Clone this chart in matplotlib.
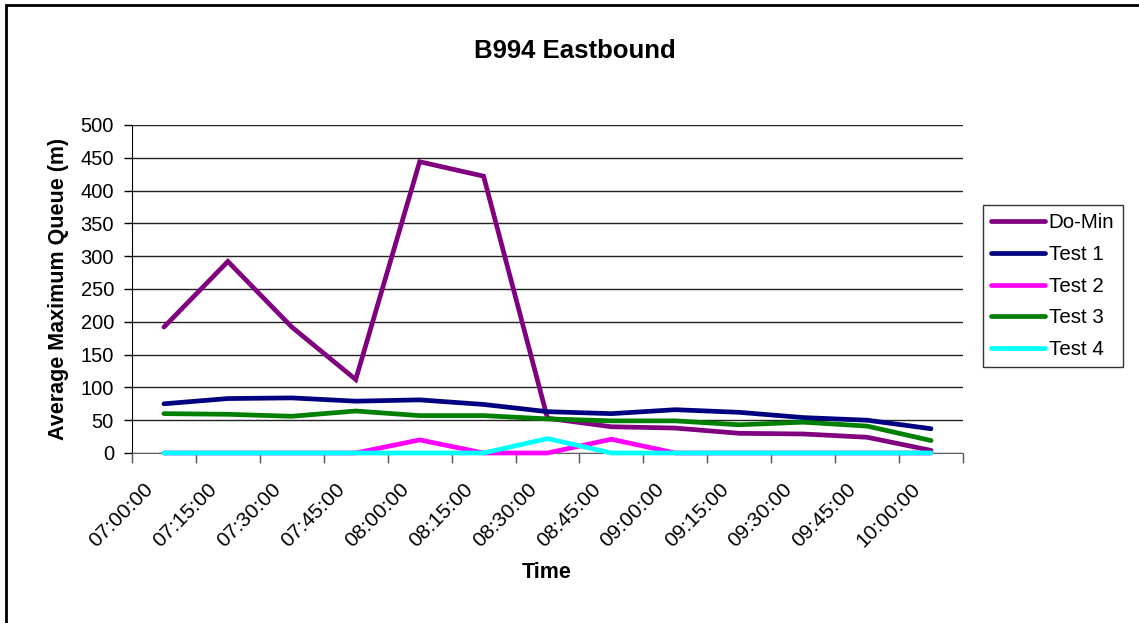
import matplotlib
matplotlib.use('Agg')
import matplotlib.pyplot as plt
from matplotlib.patches import Rectangle
from matplotlib.transforms import ScaledTranslation

plt.rcParams['font.family'] = ['Liberation Sans', 'DejaVu Sans']

times = ['07:00:00', '07:15:00', '07:30:00', '07:45:00', '08:00:00', '08:15:00',
         '08:30:00', '08:45:00', '09:00:00', '09:15:00', '09:30:00', '09:45:00',
         '10:00:00']

do_min = [192, 292, 192, 112, 444, 422, 53, 40, 38, 30, 29, 24, 4]
test_1 = [75, 83, 84, 79, 81, 74, 63, 60, 66, 62, 54, 50, 37]
test_2 = [0, 0, 0, 0, 20, 0, 0, 21, 0, 0, 0, 0, 0]
test_3 = [60, 59, 56, 64, 57, 57, 52, 49, 49, 43, 47, 41, 19]
test_4 = [0, 0, 0, 0, 0, 0, 22, 0, 0, 0, 0, 0, 0]

series = [
    ('Do-Min', do_min, '#800080'),
    ('Test 1', test_1, '#000080'),
    ('Test 2', test_2, '#FF00FF'),
    ('Test 3', test_3, '#008000'),
    ('Test 4', test_4, '#00FFFF'),
]

fig = plt.figure(figsize=(11.39, 6.23), dpi=100)
ax = fig.add_axes([132 / 1139, 1 - 453 / 623, (963 - 132) / 1139, (453 - 125) / 623])

x = list(range(len(times)))
for name, vals, col in series:
    ax.plot(x, vals, color=col, lw=3.4, label=name, solid_capstyle='round',
            solid_joinstyle='miter', clip_on=False, zorder=3)

ax.set_xlim(-0.5, len(times) - 0.5)
ax.set_ylim(0, 500)
ax.set_yticks(range(0, 501, 50))
ax.grid(axis='y', color='#222222', lw=1)
ax.set_axisbelow(True)

ax.set_xticks(x)
ax.set_xticklabels(times, rotation=45, ha='right', fontsize=15)
ax.set_xticks([i - 0.5 for i in range(len(times) + 1)], minor=True)
ax.tick_params(axis='x', which='major', length=0, pad=19)
ax.tick_params(axis='x', which='minor', length=7, width=1, color='#555555')
ax.tick_params(axis='y', length=6, width=1, labelsize=14.5, pad=7)

# nudge the slanted time labels a little to the left
shift = ScaledTranslation(-7 / 100, 0, fig.dpi_scale_trans)
for lbl in ax.get_xticklabels():
    lbl.set_transform(lbl.get_transform() + shift)

for s in ['top', 'right']:
    ax.spines[s].set_visible(False)
ax.spines['left'].set_color('black')
ax.spines['bottom'].set_color('#666666')

ax.set_ylabel('Average Maximum Queue (m)', fontsize=15.5, fontweight='bold', labelpad=8)
fig.text(547 / 1139, 1 - 572 / 623, 'Time', fontsize=15.5, fontweight='bold',
         ha='center', va='center')
fig.text(575 / 1139, 1 - 51 / 623, 'B994 Eastbound', fontsize=18.5, fontweight='bold',
         ha='center', va='center')

leg = ax.legend(loc='upper left', bbox_to_anchor=(983 / 1139, 1 - 205 / 623),
                bbox_transform=fig.transFigure, fontsize=14.8, frameon=True,
                fancybox=False, borderaxespad=0, handlelength=2.6,
                handletextpad=0.2, labelspacing=0.62, borderpad=0.4)
leg.get_frame().set_edgecolor('black')
leg.get_frame().set_linewidth(1)

# outer chart border
fig.patches.append(Rectangle((6 / 1139, -0.1), 1.2, 1 - 5 / 623 + 0.1,
                             transform=fig.transFigure, fill=False,
                             edgecolor='black', lw=2))

fig.savefig('out.png', dpi=100)
